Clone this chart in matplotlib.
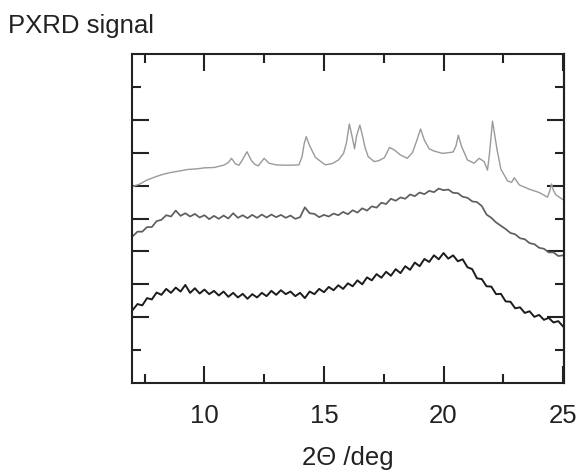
import matplotlib
matplotlib.use("Agg")
import matplotlib.pyplot as plt
from matplotlib.ticker import FixedLocator

plt.rcParams['font.family'] = ['Liberation Sans', 'DejaVu Sans']

# ---- data ----
angle_grid = [7.0, 7.2, 7.4, 7.6, 7.8, 8.0, 8.2, 8.4, 8.6, 8.8,
              9.0, 9.2, 9.4, 9.6, 9.8, 10.0, 10.2, 10.4, 10.6, 10.8,
              11.0, 11.2, 11.4, 11.6, 11.8, 12.0, 12.2, 12.4, 12.6, 12.8,
              13.0, 13.2, 13.4, 13.6, 13.8, 14.0, 14.2, 14.4, 14.6, 14.8,
              15.0, 15.2, 15.4, 15.6, 15.8, 16.0, 16.2, 16.4, 16.6, 16.8,
              17.0, 17.2, 17.4, 17.6, 17.8, 18.0, 18.2, 18.4, 18.6, 18.8,
              19.0, 19.2, 19.4, 19.6, 19.8, 20.0, 20.2, 20.4, 20.6, 20.8,
              21.0, 21.2, 21.4, 21.6, 21.8, 22.0, 22.2, 22.4, 22.6, 22.8,
              23.0, 23.2, 23.4, 23.6, 23.8, 24.0, 24.2, 24.4, 24.6, 24.8,
              25.0]

bottom_signal = [2.22, 2.40, 2.36, 2.58, 2.54, 2.75, 2.68, 2.86, 2.74, 2.90,
                 2.78, 2.98, 2.74, 2.88, 2.72, 2.84, 2.70, 2.80, 2.66, 2.78,
                 2.62, 2.74, 2.60, 2.71, 2.56, 2.70, 2.60, 2.74, 2.64, 2.80,
                 2.68, 2.82, 2.70, 2.78, 2.64, 2.74, 2.58, 2.78, 2.70, 2.86,
                 2.76, 2.92, 2.82, 2.97, 2.86, 3.03, 2.94, 3.12, 3.00, 3.21,
                 3.12, 3.31, 3.20, 3.38, 3.26, 3.46, 3.34, 3.55, 3.44, 3.66,
                 3.55, 3.77, 3.68, 3.88, 3.76, 3.95, 3.78, 3.88, 3.70, 3.76,
                 3.52, 3.46, 3.18, 3.16, 2.94, 2.93, 2.70, 2.71, 2.48, 2.47,
                 2.27, 2.30, 2.13, 2.18, 2.01, 2.07, 1.92, 1.98, 1.84, 1.88,
                 1.72]

middle_signal = [4.46, 4.60, 4.60, 4.74, 4.74, 4.92, 4.96, 5.10, 5.06, 5.24,
                 5.08, 5.16, 5.06, 5.14, 5.03, 5.10, 4.98, 5.08, 4.99, 5.09,
                 5.00, 5.16, 5.02, 5.10, 5.01, 5.11, 5.02, 5.12, 5.03, 5.12,
                 5.04, 5.11, 5.02, 5.09, 4.99, 5.04, 5.34, 5.16, 5.14, 5.04,
                 5.11, 5.06, 5.15, 5.10, 5.20, 5.13, 5.25, 5.18, 5.31, 5.24,
                 5.37, 5.33, 5.48, 5.44, 5.60, 5.54, 5.64, 5.60, 5.73, 5.68,
                 5.79, 5.74, 5.84, 5.80, 5.91, 5.86, 5.88, 5.78, 5.77, 5.66,
                 5.63, 5.52, 5.50, 5.38, 5.12, 5.02, 4.88, 4.78, 4.68, 4.56,
                 4.52, 4.40, 4.37, 4.25, 4.22, 4.11, 4.08, 3.97, 3.97, 3.86,
                 3.88]

top_angle = [7.0, 7.3, 7.6, 8.0, 8.3, 8.6, 9.0, 9.3, 9.7, 10.0,
             10.4, 10.8, 11.0, 11.13, 11.3, 11.45, 11.6, 11.78, 11.95, 12.1,
             12.25, 12.5, 12.7, 13.0, 13.3, 13.6, 13.95, 14.08, 14.18, 14.26,
             14.35, 14.45, 14.64, 14.85, 15.06, 15.34, 15.61, 15.82, 15.94, 16.06,
             16.16, 16.28, 16.36, 16.5, 16.6, 16.72, 16.85, 17.1, 17.3, 17.53,
             17.74, 17.95, 18.2, 18.48, 18.7, 18.85, 19.04, 19.2, 19.4, 19.6,
             19.96, 20.2, 20.4, 20.52, 20.62, 20.75, 21.0, 21.28, 21.49, 21.7,
             21.84, 21.92, 22.05, 22.15, 22.25, 22.4, 22.68, 22.85, 22.96, 23.17,
             23.59, 24.0, 24.35, 24.45, 24.52, 24.6, 24.7, 25.0]
top_signal = [5.97, 6.05, 6.17, 6.28, 6.35, 6.40, 6.45, 6.49, 6.51, 6.54,
              6.55, 6.62, 6.70, 6.83, 6.66, 6.62, 6.80, 7.03, 6.78, 6.65,
              6.60, 6.83, 6.68, 6.63, 6.62, 6.62, 6.63, 6.87, 7.30, 7.49,
              7.30, 7.14, 6.86, 6.74, 6.63, 6.67, 6.78, 6.98, 7.30, 7.87,
              7.55, 7.12, 7.50, 7.84, 7.55, 7.15, 6.88, 6.73, 6.76, 6.85,
              7.16, 7.08, 6.93, 6.83, 7.00, 7.30, 7.72, 7.38, 7.12, 7.05,
              6.98, 7.00, 7.02, 7.20, 7.53, 7.20, 6.78, 6.68, 6.83, 6.73,
              6.47, 6.95, 7.96, 7.50, 7.05, 6.50, 6.14, 6.10, 6.24, 6.02,
              5.89, 5.79, 5.65, 5.85, 6.05, 5.85, 5.72, 5.57]

x_major = [10, 15, 20, 25]
x_minor = [7.5, 12.5, 17.5, 22.5]
x_labels = ['10', '15', '20', '25']

fig = plt.figure(figsize=(5.8, 4.7), dpi=100)
ax = fig.add_axes([132/580, 87/470, 432/580, 329/470])

ax.plot(top_angle, top_signal, color='#9a9a9a', lw=1.0)
ax.plot(angle_grid, middle_signal, color='#5e5e5e', lw=1.25)
ax.plot(angle_grid, bottom_signal, color='#1c1c1c', lw=1.4)

ax.set_xlim(6.97, 25.04)
ax.set_ylim(0, 10)

for s in ax.spines.values():
    s.set_linewidth(1.5)
    s.set_color('#222222')

ax.xaxis.set_major_locator(FixedLocator(x_major))
ax.xaxis.set_minor_locator(FixedLocator(x_minor))
ax.set_xticklabels(x_labels)
ax.yaxis.set_major_locator(FixedLocator([2, 3, 4, 5, 6, 7, 8]))
ax.yaxis.set_minor_locator(FixedLocator([1, 9]))
ax.tick_params(which='both', direction='in', top=True, right=False,
               width=1.5, color='#222222', labelleft=False)
ax.tick_params(which='major', length=12)
ax.tick_params(which='minor', length=6.5)
ax.tick_params(axis='x', which='major', labelsize=18.5, pad=15, labelcolor='#222222')

sec = ax.secondary_yaxis('right')
sec.yaxis.set_major_locator(FixedLocator([2, 4, 6, 8]))
sec.yaxis.set_minor_locator(FixedLocator([1, 3, 5, 7, 9]))
sec.tick_params(which='both', direction='in', width=1.5, color='#222222', labelright=False)
sec.tick_params(which='major', length=12)
sec.tick_params(which='minor', length=6.5)
sec.spines['right'].set_linewidth(1.5)
sec.spines['right'].set_color('#222222')

ax.set_xlabel('2\u0398 /deg', fontsize=18.5, color='#222222', labelpad=13)
fig.text(8/580, 1 - 33/470, 'PXRD signal', fontsize=18.5, color='#222222',
         ha='left', va='baseline')

fig.savefig('out.png', dpi=100)
